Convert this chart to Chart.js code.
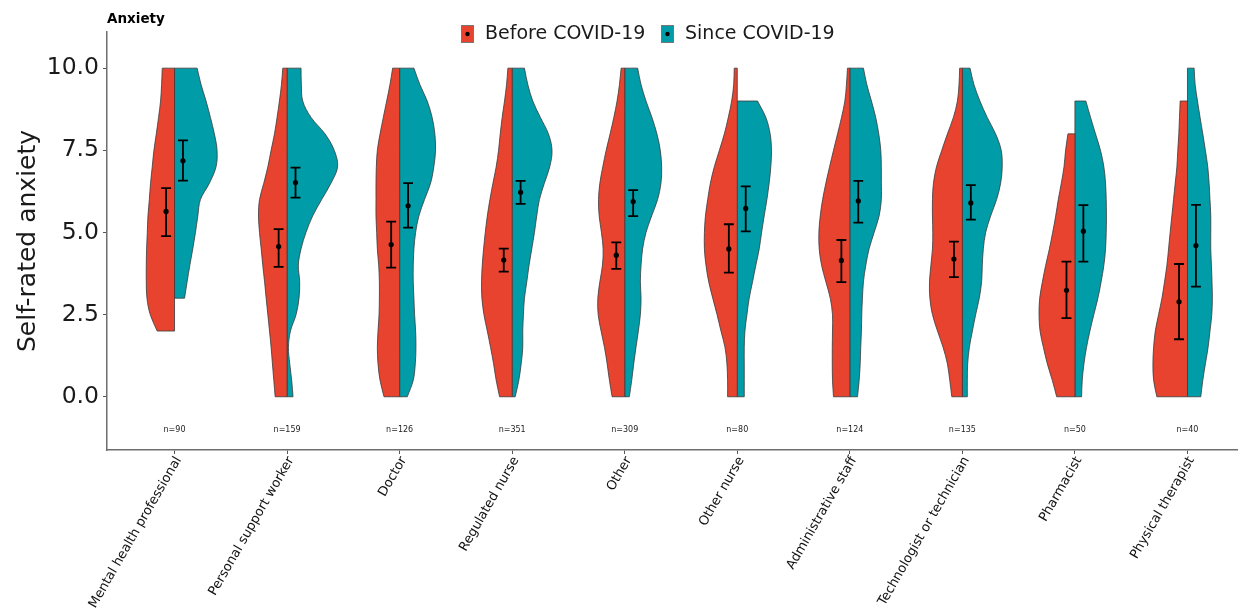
<!DOCTYPE html>
<html>
<head>
<meta charset="utf-8">
<script src="https://cdn.jsdelivr.net/npm/chart.js@4.4.1/dist/chart.umd.min.js"></script>
<style>
  html, body { margin: 0; padding: 0; background: #ffffff; }
  #wrap { width: 1241px; height: 609px; }
</style>
</head>
<body>
<div id="wrap"><canvas id="c" width="1241" height="609"></canvas></div>
<script>
// ---------------- data ----------------
const categories = ["Mental health professional", "Personal support worker", "Doctor", "Regulated nurse", "Other",
  "Other nurse", "Administrative staff", "Technologist or technician", "Pharmacist", "Physical therapist"];
const nCounts = [90, 159, 126, 351, 309, 80, 124, 135, 50, 40];
const groupNames = ["Before COVID-19", "Since COVID-19"];
const yTicks = [0, 2.5, 5, 7.5, 10];

// anxiety levels at which the violin half-widths were read (score units)
const levels = [0, 0.5, 1, 1.5, 2, 2.5, 3, 3.5, 4, 4.5, 5, 5.5, 6, 6.5, 7, 7.5, 8, 8.5, 9, 9.5, 10];

// half-violin widths (x-axis units) at each level; null = outside data range
const beforeDensity = [
  [null, null, null, null, 0.154, 0.216, 0.245, 0.251, 0.251, 0.248, 0.242, 0.236, 0.224, 0.213, 0.198, 0.183, 0.162, 0.142, 0.124, 0.115, 0.109],
  [0.106, 0.118, 0.130, 0.142, 0.156, 0.171, 0.186, 0.200, 0.216, 0.230, 0.245, 0.254, 0.245, 0.207, 0.171, 0.142, 0.112, 0.089, 0.068, 0.050, 0.038],
  [0.139, 0.174, 0.192, 0.198, 0.192, 0.183, 0.180, 0.180, 0.186, 0.198, 0.204, 0.210, 0.210, 0.210, 0.207, 0.198, 0.174, 0.145, 0.115, 0.086, 0.062],
  [0.112, 0.142, 0.165, 0.192, 0.221, 0.251, 0.269, 0.272, 0.266, 0.254, 0.239, 0.221, 0.198, 0.171, 0.142, 0.121, 0.106, 0.089, 0.068, 0.050, 0.038],
  [0.112, 0.136, 0.156, 0.180, 0.210, 0.236, 0.239, 0.221, 0.198, 0.192, 0.207, 0.227, 0.233, 0.221, 0.195, 0.165, 0.130, 0.097, 0.068, 0.047, 0.032],
  [0.086, 0.086, 0.092, 0.109, 0.145, 0.180, 0.218, 0.254, 0.278, 0.292, 0.292, 0.283, 0.263, 0.239, 0.204, 0.159, 0.115, 0.080, 0.050, 0.032, 0.027],
  [0.145, 0.154, 0.156, 0.156, 0.154, 0.154, 0.174, 0.213, 0.251, 0.272, 0.275, 0.263, 0.242, 0.213, 0.180, 0.145, 0.109, 0.074, 0.044, 0.030, 0.021],
  [0.094, 0.112, 0.133, 0.171, 0.221, 0.266, 0.289, 0.292, 0.280, 0.266, 0.263, 0.266, 0.266, 0.257, 0.230, 0.183, 0.133, 0.080, 0.044, 0.030, 0.024],
  [0.162, 0.201, 0.245, 0.280, 0.310, 0.319, 0.313, 0.289, 0.260, 0.227, 0.198, 0.171, 0.148, 0.121, 0.097, 0.083, 0.062, null, null, null, null],
  [0.272, 0.301, 0.307, 0.301, 0.286, 0.257, 0.227, 0.204, 0.183, 0.168, 0.154, 0.139, 0.124, 0.109, 0.094, 0.086, 0.077, 0.071, 0.065, null, null]
];
const sinceDensity = [
  [null, null, null, null, null, null, 0.089, 0.112, 0.136, 0.162, 0.186, 0.207, 0.230, 0.310, 0.369, 0.378, 0.354, 0.319, 0.280, 0.236, 0.201],
  [0.053, 0.041, 0.024, 0.012, 0.030, 0.080, 0.106, 0.112, 0.100, 0.124, 0.168, 0.227, 0.307, 0.390, 0.449, 0.419, 0.337, 0.213, 0.139, 0.127, 0.124],
  [0.068, 0.121, 0.139, 0.145, 0.142, 0.133, 0.127, 0.121, 0.121, 0.127, 0.142, 0.171, 0.221, 0.275, 0.304, 0.319, 0.313, 0.289, 0.245, 0.180, 0.127],
  [0.027, 0.059, 0.080, 0.094, 0.094, 0.100, 0.109, 0.130, 0.150, 0.174, 0.198, 0.218, 0.242, 0.286, 0.334, 0.354, 0.322, 0.251, 0.183, 0.139, 0.109],
  [0.041, 0.062, 0.080, 0.100, 0.121, 0.139, 0.145, 0.139, 0.145, 0.159, 0.189, 0.239, 0.292, 0.322, 0.328, 0.316, 0.286, 0.242, 0.189, 0.145, 0.115],
  [0.062, 0.062, 0.062, 0.062, 0.068, 0.086, 0.106, 0.136, 0.165, 0.195, 0.216, 0.239, 0.263, 0.283, 0.298, 0.304, 0.292, 0.254, 0.180, null, null],
  [0.068, 0.083, 0.092, 0.097, 0.103, 0.106, 0.112, 0.121, 0.142, 0.171, 0.216, 0.260, 0.280, 0.280, 0.280, 0.275, 0.257, 0.230, 0.192, 0.151, 0.121],
  [0.044, 0.044, 0.047, 0.062, 0.089, 0.118, 0.150, 0.171, 0.177, 0.186, 0.207, 0.251, 0.304, 0.340, 0.354, 0.345, 0.295, 0.221, 0.156, 0.103, 0.068],
  [0.059, 0.065, 0.080, 0.103, 0.133, 0.168, 0.204, 0.233, 0.257, 0.272, 0.278, 0.280, 0.278, 0.272, 0.257, 0.227, 0.183, 0.139, 0.097, null, null],
  [0.118, 0.136, 0.159, 0.183, 0.200, 0.216, 0.221, 0.218, 0.213, 0.207, 0.207, 0.207, 0.200, 0.192, 0.180, 0.159, 0.136, 0.112, 0.089, 0.068, 0.059]
];

// means and confidence limits
const beforeMean = [5.64, 4.57, 4.63, 4.16, 4.31, 4.50, 4.15, 4.19, 3.24, 2.89];
const beforeLow  = [4.89, 3.95, 3.93, 3.81, 3.89, 3.78, 3.49, 3.64, 2.39, 1.75];
const beforeHigh = [6.35, 5.10, 5.33, 4.51, 4.70, 5.25, 4.77, 4.72, 4.11, 4.04];
const sinceMean  = [7.18, 6.52, 5.81, 6.22, 5.94, 5.73, 5.96, 5.90, 5.04, 4.60];
const sinceLow   = [6.58, 6.06, 5.15, 5.87, 5.50, 5.03, 5.30, 5.39, 4.11, 3.35];
const sinceHigh  = [7.80, 6.97, 6.50, 6.57, 6.29, 6.40, 6.57, 6.44, 5.83, 5.84];

// ---------------- styling ----------------
const RED = "#E8432F";
const TEAL = "#009DA8";
const OUTLINE = "#3a3a3a";
const ERR_OFFSET = 0.075;   // x offset of the mean/CI from the split line
const CAP_HALF = 0.044;     // half width of the error-bar caps
const FONT = "'DejaVu Sans', 'Open Sans', sans-serif";

function halfViolin(center, widths, side) {
  const ks = [];
  widths.forEach((w, k) => { if (w !== null) ks.push(k); });
  const k0 = ks[0], k1 = ks[ks.length - 1];
  const pts = [];
  pts.push({x: center, y: levels[k0]}, {x: center, y: levels[k0]});
  for (let k = k0; k <= k1; k++) {
    const p = {x: center + side * widths[k], y: levels[k]};
    pts.push(p);
    if (k === k0 || k === k1) pts.push({x: p.x, y: p.y});
  }
  pts.push({x: center, y: levels[k1]}, {x: center, y: levels[k1]}, {x: center, y: levels[k0]});
  return pts;
}

function errorBars(means, lows, highs, side) {
  const pts = [];
  means.forEach((m, i) => {
    const x = i + 1 + side * ERR_OFFSET;
    pts.push({x: x - CAP_HALF, y: highs[i]}, {x: x + CAP_HALF, y: highs[i]}, {x: x, y: null});
    pts.push({x: x, y: highs[i]}, {x: x, y: lows[i]}, {x: x, y: null});
    pts.push({x: x - CAP_HALF, y: lows[i]}, {x: x + CAP_HALF, y: lows[i]}, {x: x, y: null});
  });
  return pts;
}

const datasets = [];
categories.forEach((c, i) => {
  datasets.push({
    label: groupNames[0] + " " + c,
    data: halfViolin(i + 1, beforeDensity[i], -1),
    showLine: true, fill: 'shape', backgroundColor: RED, borderColor: OUTLINE,
    borderWidth: 0.8, pointRadius: 0, pointHoverRadius: 0, tension: 0.35, order: 5
  });
  datasets.push({
    label: groupNames[1] + " " + c,
    data: halfViolin(i + 1, sinceDensity[i], 1),
    showLine: true, fill: 'shape', backgroundColor: TEAL, borderColor: OUTLINE,
    borderWidth: 0.8, pointRadius: 0, pointHoverRadius: 0, tension: 0.35, order: 5
  });
});
datasets.push({
  label: "CI before", data: errorBars(beforeMean, beforeLow, beforeHigh, -1),
  showLine: true, spanGaps: false, fill: false, borderColor: "#000", borderWidth: 1.8,
  pointRadius: 0, order: 2
});
datasets.push({
  label: "CI since", data: errorBars(sinceMean, sinceLow, sinceHigh, 1),
  showLine: true, spanGaps: false, fill: false, borderColor: "#000", borderWidth: 1.8,
  pointRadius: 0, order: 2
});
datasets.push({
  label: "Mean before", data: beforeMean.map((m, i) => ({x: i + 1 - ERR_OFFSET, y: m})),
  showLine: false, pointRadius: 2.6, pointBackgroundColor: "#000", pointBorderWidth: 0, order: 1
});
datasets.push({
  label: "Mean since", data: sinceMean.map((m, i) => ({x: i + 1 + ERR_OFFSET, y: m})),
  showLine: false, pointRadius: 2.6, pointBackgroundColor: "#000", pointBorderWidth: 0, order: 1
});

// ---------------- annotations: n labels, panel title, legend ----------------
const annotate = {
  id: 'annotate',
  afterDatasetsDraw(chart) {
    const {ctx, scales: {x, y}} = chart;
    ctx.save();
    ctx.fillStyle = "#222";
    ctx.font = "8px " + FONT;
    ctx.textAlign = "center";
    ctx.textBaseline = "middle";
    nCounts.forEach((n, i) => {
      ctx.fillText("n=" + n, x.getPixelForValue(i + 1), y.getPixelForValue(-1.0));
    });
    ctx.restore();
  },
  afterDraw(chart) {
    const {ctx, chartArea} = chart;
    ctx.save();
    // panel title
    ctx.fillStyle = "#000";
    ctx.font = "bold 13.5px " + FONT;
    ctx.textAlign = "left";
    ctx.textBaseline = "middle";
    ctx.fillText("Anxiety", chartArea.left, 19);
    // legend
    const keys = [{x: 461, color: RED, label: groupNames[0]}, {x: 661, color: TEAL, label: groupNames[1]}];
    ctx.font = "19px " + FONT;
    keys.forEach(k => {
      ctx.fillStyle = k.color;
      ctx.fillRect(k.x, 25, 12, 17);
      ctx.strokeStyle = "#777";
      ctx.lineWidth = 1;
      ctx.strokeRect(k.x + 0.5, 25.5, 12, 17);
      ctx.fillStyle = "#000";
      ctx.beginPath();
      ctx.arc(k.x + 6.5, 34, 2.2, 0, Math.PI * 2);
      ctx.fill();
      ctx.fillStyle = "#1a1a1a";
      ctx.fillText(k.label, k.x + 24, 34);
    });
    ctx.restore();
  }
};

new Chart(document.getElementById('c'), {
  type: 'scatter',
  data: {datasets},
  options: {
    responsive: false,
    devicePixelRatio: 1,
    animation: false,
    layout: {padding: {top: 32, right: 1, left: 0, bottom: 0}},
    plugins: {legend: {display: false}, tooltip: {enabled: false}, title: {display: false}},
    scales: {
      x: {
        type: 'linear', min: 0.4, max: 10.44,
        afterBuildTicks: s => { s.ticks = categories.map((c, i) => ({value: i + 1})); },
        afterFit: s => { s.height = 159; },
        grid: {display: true, drawOnChartArea: false, drawTicks: true, tickLength: 4, color: "#555"},
        border: {display: true, color: "#6e6e6e", width: 1.5},
        ticks: {
          autoSkip: false, minRotation: 60, maxRotation: 60, padding: 0, labelOffset: 4,
          color: "#111", font: {family: FONT, size: 13},
          callback: v => categories[Math.round(v) - 1]
        }
      },
      y: {
        type: 'linear', min: -1.62, max: 11.1,
        afterBuildTicks: s => { s.ticks = yTicks.map(v => ({value: v})); },
        afterFit: s => { s.width = 107; },
        grid: {display: true, drawOnChartArea: false, drawTicks: true, tickLength: 4, color: "#555"},
        border: {display: true, color: "#6e6e6e", width: 1.5},
        ticks: {color: "#1a1a1a", padding: 4, font: {family: FONT, size: 23.5}, callback: v => v.toFixed(1)},
        title: {display: true, text: "Self-rated anxiety", color: "#1a1a1a", padding: {top: 13, bottom: 0},
                font: {family: FONT, size: 25}}
      }
    }
  },
  plugins: [annotate]
});
</script>
</body>
</html>
